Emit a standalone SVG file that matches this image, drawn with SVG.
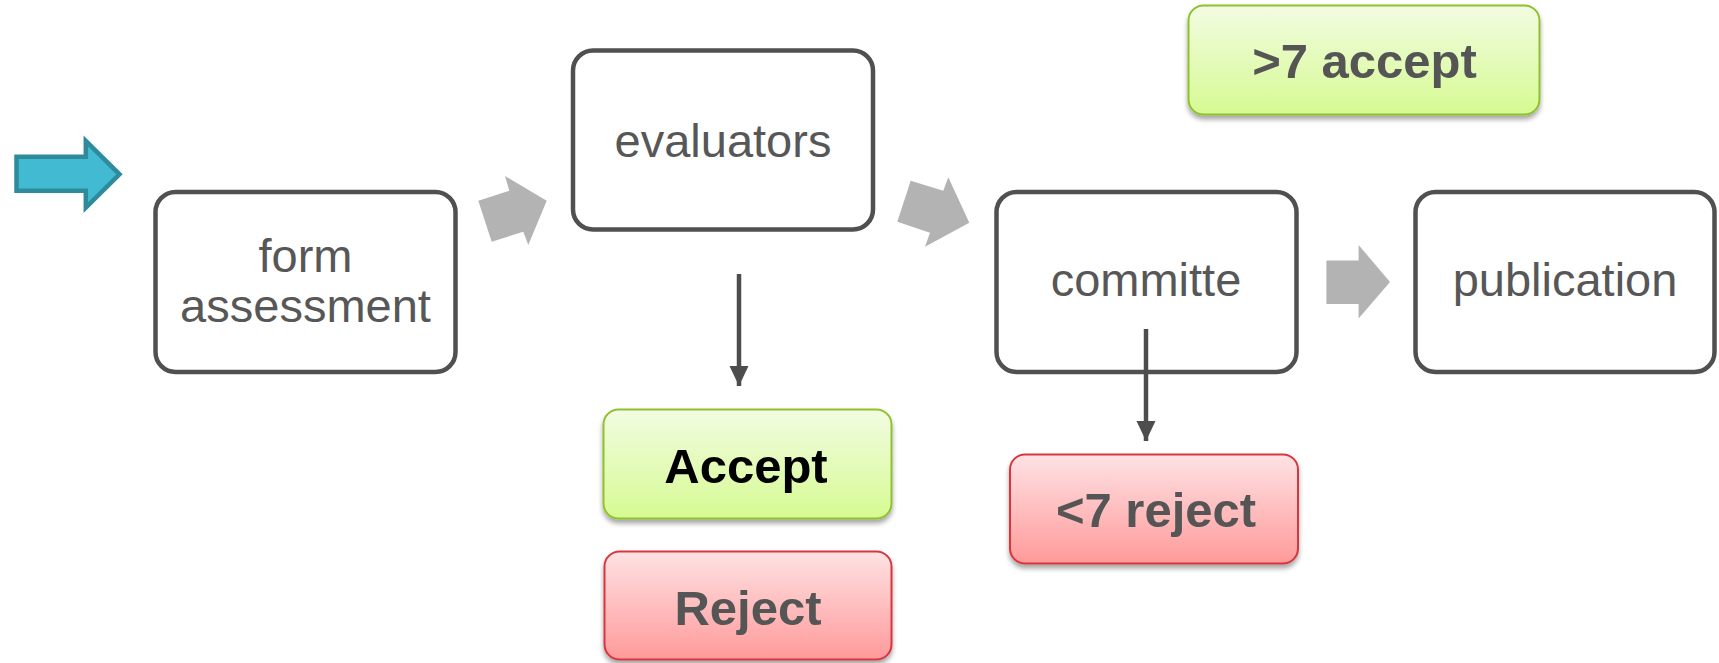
<svg xmlns="http://www.w3.org/2000/svg" width="1719" height="663" viewBox="0 0 1719 663">
  <defs>
    <style>
      .box { fill: #ffffff; stroke: #505050; stroke-width: 4.5; }
      .lbl { font-family: "Liberation Sans", Arial, sans-serif; font-size: 47px; fill: #575757; text-anchor: middle; }
      .blbl { font-family: "Liberation Sans", Arial, sans-serif; font-size: 49px; font-weight: bold; fill: #555555; text-anchor: middle; }
      .gbox { fill: url(#gGreen); stroke: #8fc02e; stroke-width: 2; filter: url(#shadow); }
      .rbox { fill: url(#gRed); stroke: #d9363e; stroke-width: 2; filter: url(#shadow); }
      .block { fill: #b3b3b3; }
      .thin { stroke: #4d4d4d; stroke-width: 4.5; fill: none; }
    </style>
    <linearGradient id="gGreen" x1="0" y1="0" x2="0" y2="1">
      <stop offset="0" stop-color="#f2fce2"/>
      <stop offset="1" stop-color="#d6fa92"/>
    </linearGradient>
    <linearGradient id="gRed" x1="0" y1="0" x2="0" y2="1">
      <stop offset="0" stop-color="#fee2e4"/>
      <stop offset="1" stop-color="#ff9a9a"/>
    </linearGradient>
    <filter id="shadow" x="-10%" y="-10%" width="120%" height="130%">
      <feGaussianBlur in="SourceAlpha" stdDeviation="2.5"/>
      <feOffset dx="0" dy="4" result="b"/>
      <feComponentTransfer><feFuncA type="linear" slope="0.35"/></feComponentTransfer>
      <feMerge><feMergeNode/><feMergeNode in="SourceGraphic"/></feMerge>
    </filter>
    <marker id="ah" viewBox="0 0 20 28" refX="20" refY="14" markerWidth="20" markerHeight="28" markerUnits="userSpaceOnUse" orient="auto">
      <path d="M0,4.5 L20,14 L0,23.5 Z" fill="#4d4d4d"/>
    </marker>
  </defs>

  <g id="node-form">
    <rect class="box" x="155.5" y="192" width="300" height="180" rx="20"/>
    <text class="lbl" x="305.5" y="271.7">form</text>
    <text class="lbl" x="305.5" y="321.7">assessment</text>
  </g>

  <g id="node-evaluators">
    <rect class="box" x="573" y="50.5" width="300" height="179" rx="20"/>
    <text class="lbl" x="723" y="157">evaluators</text>
  </g>

  <g id="node-committe">
    <rect class="box" x="996.5" y="192" width="300" height="180" rx="20"/>
    <text class="lbl" x="1146" y="296">committe</text>
  </g>

  <g id="node-publication">
    <rect class="box" x="1415.5" y="192" width="299" height="180" rx="20"/>
    <text class="lbl" x="1565" y="296">publication</text>
  </g>

  <g id="node-accept7">
    <rect class="gbox" x="1188.5" y="5.5" width="351" height="109" rx="15"/>
    <text class="blbl" x="1364.5" y="78">&gt;7 accept</text>
  </g>

  <g id="node-accept">
    <rect class="gbox" x="603.5" y="409.5" width="288" height="109" rx="15"/>
    <text class="blbl" x="746" y="483" style="fill:#000000">Accept</text>
  </g>

  <g id="node-reject">
    <rect class="rbox" x="604.5" y="551.5" width="287" height="108" rx="15"/>
    <text class="blbl" x="748" y="625">Reject</text>
  </g>

  <g id="node-reject7">
    <rect class="rbox" x="1010" y="454.5" width="288" height="109" rx="15"/>
    <text class="blbl" x="1156" y="527">&lt;7 reject</text>
  </g>

  <g id="connectors">
    <polygon id="start-arrow" points="16.5,156.8 85.8,156.8 85.8,141 119.5,174.3 85.8,207.5 85.8,190.8 16.5,190.8" fill="#41bad2" stroke="#2e8b9c" stroke-width="4.5"/>
    <polygon class="block" points="478.3,200.7 509.3,190.7 505,176 546.7,200.7 528.3,245 523.3,231.7 491.7,241.7"/>
    <polygon class="block" points="910.7,180.7 943.3,190.7 948.3,177.3 969.3,222.7 925,246.7 930,232.7 897.3,221.7"/>
    <polygon class="block" points="1326.4,260.5 1358.6,260.5 1358.6,245 1390,282 1358.6,318.5 1358.6,304 1326.4,304"/>
    <line class="thin" x1="739" y1="274" x2="739" y2="386" marker-end="url(#ah)"/>
    <line class="thin" x1="1146" y1="329" x2="1146" y2="441" marker-end="url(#ah)"/>
  </g>
</svg>
